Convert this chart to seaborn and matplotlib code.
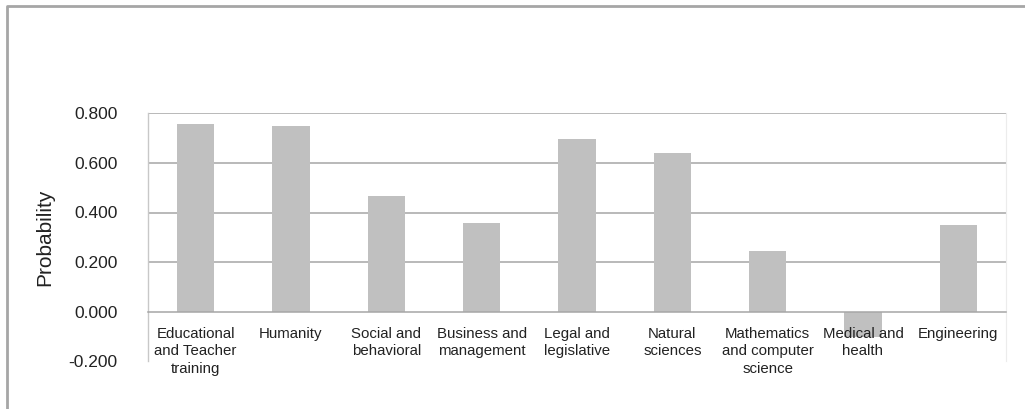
import matplotlib
matplotlib.use("Agg")
import matplotlib.pyplot as plt
import seaborn as sns
import pandas as pd
from matplotlib.lines import Line2D

categories = [
    "Educational\nand Teacher\ntraining",
    "Humanity",
    "Social and\nbehavioral",
    "Business and\nmanagement",
    "Legal and\nlegislative",
    "Natural\nsciences",
    "Mathematics\nand computer\nscience",
    "Medical and\nhealth",
    "Engineering",
]
probability = [0.756, 0.750, 0.467, 0.356, 0.695, 0.641, 0.246, -0.102, 0.348]
y_ticks = [-0.2, 0.0, 0.2, 0.4, 0.6, 0.8]

df = pd.DataFrame({"field": categories, "prob": probability})

sns.set_style("white")
plt.rcParams["font.family"] = ["Liberation Sans", "DejaVu Sans"]

fig = plt.figure(figsize=(10.25, 4.09), dpi=100)
ax = fig.add_axes([148 / 1025, 1 - 361.3 / 409, (1006 - 148) / 1025, (361.3 - 113.3) / 409])

sns.barplot(data=df, x="field", y="prob", color="#c0c0c0", width=0.39,
            saturation=1, linewidth=0, ax=ax, zorder=2)

ax.set_ylim(-0.2, 0.8)
ax.set_xlim(-0.5, len(categories) - 0.5)
ax.set_yticks(y_ticks)
ax.set_yticklabels([f"{v:.3f}" for v in y_ticks], fontsize=12.5, color="#222222")
ax.tick_params(axis="y", length=0, pad=22)

# horizontal grid (not at the bottom limit)
for v in y_ticks[2:]:
    ax.axhline(v, color="#a6a6a6", lw=1.1, zorder=1)

# x axis sits on zero, tick marks between categories
ax.spines["bottom"].set_position(("data", 0))
ax.spines["bottom"].set_color("#a6a6a6")
ax.spines["bottom"].set_linewidth(1.1)
ax.spines["bottom"].set_zorder(4)
ax.spines["left"].set_color("#c8c8c8")
ax.spines["left"].set_linewidth(1.0)
ax.spines["right"].set_color("#ececec")
ax.spines["top"].set_visible(False)

ax.set_xticks(range(len(categories)))
ax.set_xticklabels(categories, fontsize=10.8, color="#222222", linespacing=1.3,
                   va="top", ha="center")
ax.set_xticks([i - 0.5 for i in range(len(categories) + 1)], minor=True)
ax.tick_params(axis="x", which="major", length=0, pad=11)
ax.tick_params(axis="x", which="minor", length=5, width=1, color="#a6a6a6", direction="out")
ax.xaxis.set_zorder(5)

ax.set_xlabel("")
ax.set_ylabel("Probability", fontsize=15, color="#222222", labelpad=10)

# outer frame of the picture
fig.add_artist(Line2D([6.5 / 1025, 6.5 / 1025, 1.0], [0.0, 1 - 5.5 / 409, 1 - 5.5 / 409],
                      transform=fig.transFigure, color="#a6a6a6", lw=2))

fig.savefig("out.png", dpi=100)
